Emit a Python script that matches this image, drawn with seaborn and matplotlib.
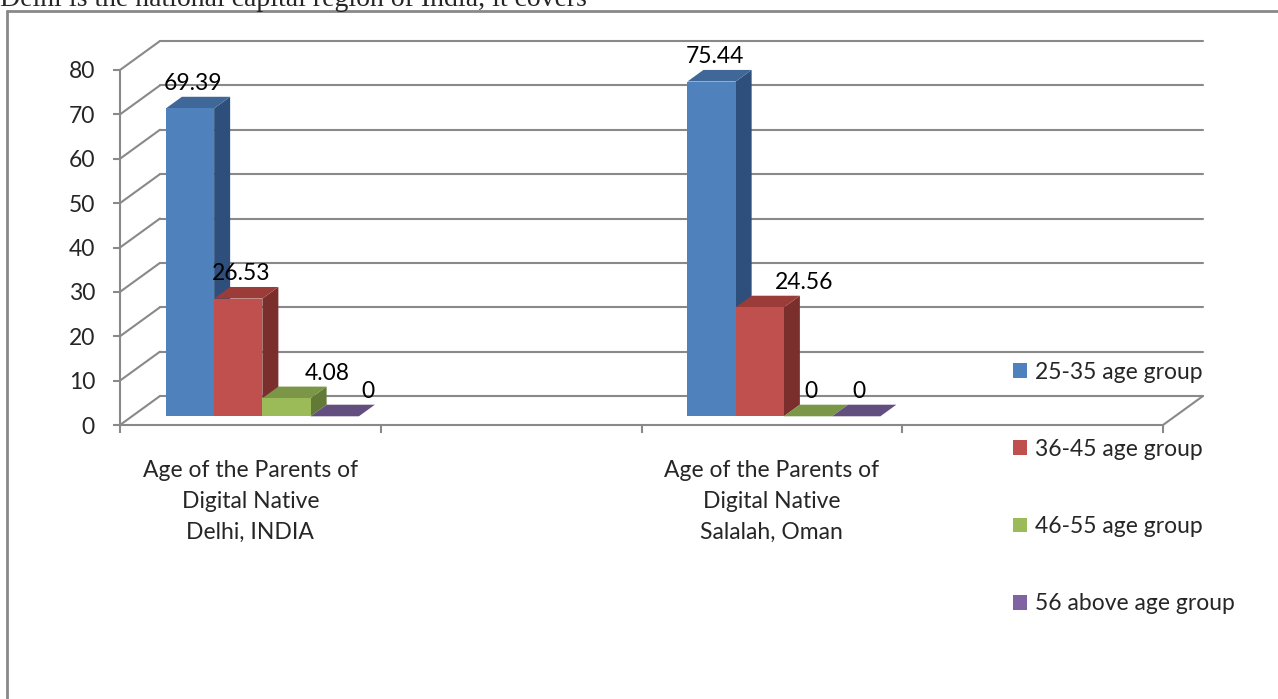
import matplotlib
matplotlib.use("Agg")
import matplotlib.pyplot as plt
from matplotlib.patches import Patch, Polygon
from matplotlib.lines import Line2D
import seaborn as sns
import pandas as pd
import numpy as np

# chart data
groups = ["Age of the Parents of\nDigital Native\nDelhi, INDIA",
          "Age of the Parents of\nDigital Native\nSalalah, Oman"]
age_groups = ["25-35 age group", "36-45 age group", "46-55 age group", "56 above age group"]
delhi = [69.39, 26.53, 4.08, 0]
oman = [75.44, 24.56, 0, 0]
y_ticks = list(range(0, 81, 10))

# excel-ish 3d colours: front, top, side
front_colors = ["#4F81BD", "#C0504D", "#9BBB59", "#8064A2"]
top_colors = ["#3F6797", "#9B3C39", "#7A9646", "#634E80"]
side_colors = ["#2E4E7C", "#7B2F2D", "#627A36", "#4D3D64"]
grid_col = "#898989"
fs = 16.5

df = pd.DataFrame({
    "group": np.repeat(groups, len(age_groups)),
    "age": age_groups * len(groups),
    "value": delhi + oman,
})

sns.set_style("white")
plt.rcParams["font.family"] = ["Lato", "DejaVu Sans"]

W, H = 1278, 699
fig = plt.figure(figsize=(W / 100, H / 100), dpi=100)
# axes = front plane of the 3d box
ax = fig.add_axes([120 / W, 274 / H, 1043 / W, 355 / H])

# 4 slots, the 2nd and 4th are empty (as in the original sheet)
slots = [groups[0], "", groups[1], " "]
sns.barplot(data=df, x="group", y="value", hue="age", order=slots,
            hue_order=age_groups, palette=front_colors, saturation=1,
            width=0.74, errorbar=None, legend=False, ax=ax)

ax.set_xlim(-0.5, 3.5)
ax.set_ylim(0, 80)

# depth vector of the floor (pixels -> data units)
px_x = 1043 / 4
px_y = 355 / 80
DX = 40 / px_x
DY = 29 / px_y
front_d, bar_d = 0.3, 0.4   # bar front face depth, bar thickness

# back wall gridlines + left wall diagonals
for v in y_ticks:
    ax.plot([-0.5 + DX, 3.5 + DX], [v + DY, v + DY], color=grid_col, lw=1.5,
            clip_on=False, zorder=1)
    ax.plot([-0.5, -0.5 + DX], [v, v + DY], color=grid_col, lw=1.5,
            clip_on=False, zorder=1)
ax.plot([3.5, 3.5 + DX], [0, DY], color=grid_col, lw=1.5, clip_on=False, zorder=1)

# turn flat seaborn bars into 3d columns
label_nudge = {(0, 2): 38, (0, 3): 30, (1, 1): 41}
for hi, cont in enumerate(ax.containers):
    for gi, bar in enumerate(cont):
        w = bar.get_width()
        h = bar.get_height()
        x0 = bar.get_x() + front_d * DX
        b = front_d * DY
        bar.set_x(x0)
        bar.set_y(b)
        bar.set_linewidth(0)
        bar.set_zorder(3 + 2 * hi)
        bar.set_clip_on(False)
        ddx, ddy = bar_d * DX, bar_d * DY
        top = Polygon([(x0, b + h), (x0 + w, b + h), (x0 + w + ddx, b + h + ddy),
                       (x0 + ddx, b + h + ddy)], closed=True, facecolor=top_colors[hi],
                      edgecolor="none", zorder=2 + 2 * hi, clip_on=False)
        side = Polygon([(x0 + w, b), (x0 + w + ddx, b + ddy), (x0 + w + ddx, b + h + ddy),
                        (x0 + w, b + h)], closed=True, facecolor=side_colors[hi],
                       edgecolor="none", zorder=2 + 2 * hi, clip_on=False)
        ax.add_patch(side)
        ax.add_patch(top)
        ax.annotate(f"{h:g}", xy=(x0 + w / 2, b + h), xytext=(label_nudge.get((gi, hi), 0) + 3, 25),
                    textcoords="offset pixels", ha="center", va="center",
                    fontsize=fs, color="black", zorder=20, annotation_clip=False)

# axes styling
for s in ["top", "right"]:
    ax.spines[s].set_visible(False)
for s in ["left", "bottom"]:
    ax.spines[s].set_color(grid_col)
    ax.spines[s].set_linewidth(1.5)
ax.set_yticks(y_ticks)
ax.set_yticklabels([str(t) for t in y_ticks])
ax.tick_params(axis="y", direction="out", length=5, width=1.5, color=grid_col,
               pad=13, labelsize=fs, left=True)
ax.set_xticks([0, 2])
ax.set_xticklabels(groups, linespacing=1.6)
ax.set_xticks([-0.5, 0.5, 1.5, 2.5, 3.5], minor=True)
ax.tick_params(axis="x", which="major", length=0, pad=25, labelsize=fs)
ax.tick_params(axis="x", which="minor", direction="out", length=6, width=1.5,
               color=grid_col, bottom=True)
ax.set_xlabel("")
ax.set_ylabel("")

# legend
handles = [Patch(facecolor=c, edgecolor="none", label=l) for c, l in zip(front_colors, age_groups)]
fig.legend(handles=handles, loc="center left", bbox_to_anchor=(1004 / W, 1 - 488 / H),
           frameon=False, fontsize=fs, handlelength=0.62, handleheight=0.62,
           handletextpad=0.35, labelspacing=2.45, borderaxespad=0)

# outer chart border (top/left only visible) and the cut-off line of text above it
fig.add_artist(Line2D([7 / W, 1], [1 - 11 / H, 1 - 11 / H], color=grid_col, lw=2,
                      transform=fig.transFigure))
fig.add_artist(Line2D([7 / W, 7 / W], [0, 1 - 11 / H], color=grid_col, lw=2,
                      transform=fig.transFigure))
fig.text(0, 1 - 6 / H, "Delhi is the national capital region of India, it covers",
         fontsize=20, family=["Liberation Serif", "DejaVu Serif"], va="baseline", ha="left")

fig.savefig("out.png", dpi=100)
